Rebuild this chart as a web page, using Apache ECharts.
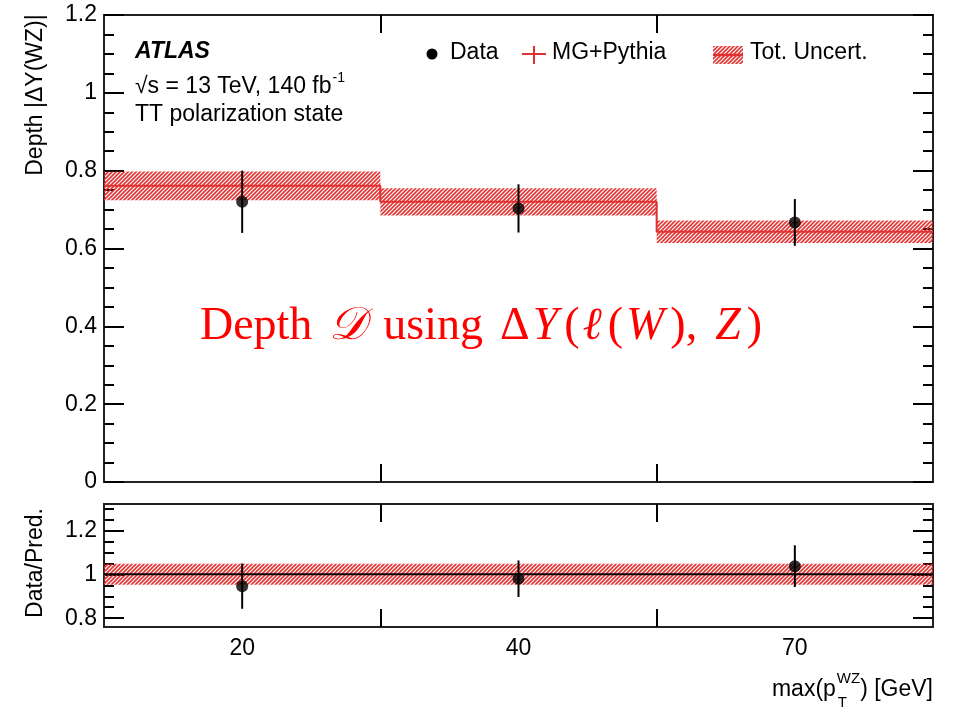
<!DOCTYPE html>
<html>
<head>
<meta charset="utf-8">
<script src="https://cdn.jsdelivr.net/npm/echarts@6/dist/echarts.min.js"></script>
<style>
  html, body { margin: 0; padding: 0; background: #fff; }
  #chart { width: 963px; height: 710px; }
</style>
</head>
<body>
<div id="chart"></div>
<script>
// Bins of max(pT^WZ): three equal-width bins, labelled by value
const binEdges = [0, 1, 2, 3];
const binLabels = ['20', '40', '70'];

// Upper panel: depth of |ΔY(WZ)|, TT polarization state
const predValues = [0.761, 0.720, 0.643];      // MG+Pythia
const predUncert = [0.037, 0.035, 0.029];      // total uncertainty (half width)
const dataValues = [0.720, 0.703, 0.667];
const dataErrors = [0.080, 0.062, 0.060];

// Lower panel: Data / Pred.
const ratioValues = [0.946, 0.980, 1.037];
const ratioErrors = [0.103, 0.083, 0.095];
const ratioBand = [0.048, 0.048, 0.048];
const ratioRef = 1;

// Axis ticks
const mainYMin = 0, mainYMax = 1.2, mainYStep = 0.2;
const ratioYMin = 0.76, ratioYMax = 1.32;
const ratioMajorTicks = [0.8, 1, 1.2];
const ratioMinorTicks = [0.8, 0.85, 0.9, 0.95, 1, 1.05, 1.1, 1.15, 1.2, 1.25, 1.3];
const binBoundaries = [1, 2];

const FONT = '"Liberation Sans", Arial, Helvetica, sans-serif';
const SERIF = '"Liberation Serif", "DejaVu Serif", serif';
const RED = '#e03030';

// Diagonal hatch tile for the uncertainty bands
function makeHatch() {
  const c = document.createElement('canvas');
  c.width = 4; c.height = 4;
  const ctx = c.getContext('2d');
  ctx.strokeStyle = 'rgba(225,40,40,0.95)';
  ctx.lineWidth = 1.6;
  ctx.beginPath();
  ctx.moveTo(-1, 5); ctx.lineTo(5, -1);
  ctx.moveTo(-1, 1); ctx.lineTo(1, -1);
  ctx.moveTo(3, 5); ctx.lineTo(5, 3);
  ctx.stroke();
  return c;
}
const hatchTile = makeHatch();
const hatchFill = { image: hatchTile, repeat: 'repeat' };

const centers = binLabels.map((_, i) => (binEdges[i] + binEdges[i + 1]) / 2);

function bandData(vals, unc) {
  return vals.map((v, i) => [binEdges[i], binEdges[i + 1], v - unc[i], v + unc[i]]);
}
function stepData(vals) {
  const pts = [];
  vals.forEach((v, i) => { pts.push([binEdges[i], v]); pts.push([binEdges[i + 1], v]); });
  return pts;
}
function errData(vals, errs) {
  return vals.map((v, i) => [centers[i], v - errs[i], v + errs[i]]);
}

function renderBand(params, api) {
  const p1 = api.coord([api.value(0), api.value(3)]);
  const p2 = api.coord([api.value(1), api.value(2)]);
  return {
    type: 'rect',
    shape: { x: p1[0], y: p1[1], width: p2[0] - p1[0], height: p2[1] - p1[1] },
    style: { fill: hatchFill }
  };
}
function renderErr(params, api) {
  const lo = api.coord([api.value(0), api.value(1)]);
  const hi = api.coord([api.value(0), api.value(2)]);
  return {
    type: 'line',
    shape: { x1: lo[0], y1: lo[1], x2: hi[0], y2: hi[1] },
    style: { stroke: '#000', lineWidth: 2 }
  };
}

const tickStyle = { color: '#000', width: 2 };
const labelStyle = { color: '#000', fontSize: 23, fontFamily: FONT };
const noLine = { show: false, onZero: false };

function xAxisDef(gridIndex, position, withLabels) {
  return {
    type: 'value', gridIndex, position, min: binEdges[0], max: binEdges[binEdges.length - 1],
    axisLine: noLine,
    splitLine: { show: false },
    axisTick: { show: true, inside: true, length: 18, lineStyle: tickStyle, customValues: binBoundaries },
    axisLabel: withLabels
      ? Object.assign({ show: true, margin: 10, customValues: centers,
          formatter: v => binLabels[centers.findIndex(c => Math.abs(c - v) < 1e-6)] }, labelStyle)
      : { show: false }
  };
}

function mainYAxis(position, withLabels) {
  return {
    type: 'value', gridIndex: 0, position, min: mainYMin, max: mainYMax, interval: mainYStep,
    axisLine: noLine, splitLine: { show: false },
    axisTick: { show: true, inside: true, length: 20, lineStyle: tickStyle },
    minorTick: { show: true, splitNumber: 4, length: 10, lineStyle: tickStyle },
    axisLabel: withLabels ? Object.assign({ show: true, margin: 7 }, labelStyle) : { show: false }
  };
}
function ratioYAxis(position, major, withLabels) {
  return {
    type: 'value', gridIndex: 1, position, min: ratioYMin, max: ratioYMax,
    axisLine: noLine, splitLine: { show: false },
    axisTick: { show: true, inside: true, length: major ? 20 : 10, lineStyle: tickStyle,
      customValues: major ? ratioMajorTicks : ratioMinorTicks },
    axisLabel: withLabels
      ? Object.assign({ show: true, margin: 7, customValues: ratioMajorTicks }, labelStyle)
      : { show: false }
  };
}

// Text width helper for the hand-placed annotations
const measureCtx = document.createElement('canvas').getContext('2d');
function textWidth(str, font) { measureCtx.font = font; return measureCtx.measureText(str).width; }

function txt(x, y, text, opts) {
  const o = Object.assign({ size: 23, family: FONT, weight: 'normal', style: 'normal',
    align: 'left', valign: 'middle', fill: '#000', rotation: 0 }, opts || {});
  return {
    type: 'text', x, y, rotation: o.rotation, z: 100,
    style: {
      text, fill: o.fill, fontSize: o.size, fontFamily: o.family,
      fontWeight: o.weight, fontStyle: o.style,
      align: o.align, verticalAlign: o.valign,
      textAlign: o.align, textVerticalAlign: o.valign
    }
  };
}

// x-axis title: max(p_T^WZ) [GeV], right aligned to the frame
const xTitleRight = 933;
const mainFont = '23px ' + FONT;
const smallFont = '15px ' + FONT;
const tailW = textWidth(') [GeV]', mainFont);
const supW = textWidth('WZ', smallFont);
const xTitleScriptX = xTitleRight - tailW - supW;

// √s line with superscript
const sLine = '√s = 13 TeV, 140 fb';
const sLineW = textWidth(sLine, mainFont);

// Red annotation, one fragment per style
const RED_TEXT = '#ff0000';
const annSize = 46;
function annStyle(italic, family, padL, padR) {
  return { fontSize: annSize, fontFamily: family || SERIF, fontStyle: italic ? 'italic' : 'normal',
    fill: RED_TEXT, color: RED_TEXT, padding: [0, padR || 0, 0, padL || 0] };
}

const graphics = [
  txt(135, 52, 'ATLAS', { weight: 'bold', style: 'italic' }),
  txt(135, 87, sLine),
  txt(135 + sLineW + 1, 78, '-1', { size: 14 }),
  txt(135, 115, 'TT polarization state'),

  // legend
  { type: 'circle', shape: { cx: 432, cy: 54, r: 5.5 }, style: { fill: '#000' }, z: 100 },
  txt(450, 53, 'Data'),
  { type: 'line', shape: { x1: 522, y1: 54, x2: 546, y2: 54 }, style: { stroke: RED, lineWidth: 2 }, z: 100 },
  { type: 'line', shape: { x1: 534, y1: 46, x2: 534, y2: 64 }, style: { stroke: RED, lineWidth: 2 }, z: 100 },
  txt(552, 53, 'MG+Pythia'),
  { type: 'rect', shape: { x: 713, y: 46, width: 30, height: 18 }, style: { fill: hatchFill }, z: 100 },
  { type: 'line', shape: { x1: 713, y1: 55, x2: 743, y2: 55 }, style: { stroke: RED, lineWidth: 2.5 }, z: 100 },
  txt(750, 53, 'Tot. Uncert.'),

  // axis titles
  txt(36, 95, 'Depth |ΔY(WZ)|', { align: 'center', rotation: Math.PI / 2 }),
  txt(36, 563, 'Data/Pred.', { align: 'center', rotation: Math.PI / 2 }),
  txt(xTitleRight, 690, ') [GeV]', { align: 'right' }),
  txt(xTitleScriptX, 679, 'WZ', { size: 15 }),
  txt(xTitleScriptX + 1, 703, 'T', { size: 15 }),
  txt(xTitleScriptX - 1, 690, 'max(p', { align: 'right' }),

  // red annotation
  {
    type: 'text', x: 481, y: 327, z: 100,
    style: {
      text: '{r|Depth}{g|}{s|𝒟}{g|}{r|using}{g|}{r|Δ}{i|Y}{r|(}{i|ℓ}{r|(}{i|W}{r|),}{g|}{i|Z}{r|)}',
      align: 'center', verticalAlign: 'middle', textAlign: 'center', textVerticalAlign: 'middle',
      fill: RED_TEXT,
      rich: {
        r: annStyle(false, null, 1, 1),
        i: annStyle(true, null, 2, 5),
        s: annStyle(true, '"DejaVu Serif", "DejaVu Sans", serif', 1, 1),
        g: { width: 15, fontSize: annSize }
      }
    }
  }
];

const option = {
  animation: false,
  backgroundColor: '#fff',
  grid: [
    { left: 104, right: 30, top: 15, height: 467, show: true, borderColor: '#222', borderWidth: 2, backgroundColor: 'transparent', containLabel: false },
    { left: 104, right: 30, top: 504, height: 123, show: true, borderColor: '#222', borderWidth: 2, backgroundColor: 'transparent', containLabel: false }
  ],
  xAxis: [
    xAxisDef(0, 'bottom', false),
    xAxisDef(0, 'top', false),
    xAxisDef(1, 'bottom', true),
    xAxisDef(1, 'top', false)
  ],
  yAxis: [
    mainYAxis('left', true),
    mainYAxis('right', false),
    ratioYAxis('left', true, true),
    ratioYAxis('left', false, false),
    ratioYAxis('right', true, false),
    ratioYAxis('right', false, false)
  ],
  series: [
    { type: 'custom', xAxisIndex: 0, yAxisIndex: 0, renderItem: renderBand, clip: true,
      encode: { x: [0, 1], y: [2, 3] }, data: bandData(predValues, predUncert), z: 1 },
    { type: 'line', xAxisIndex: 0, yAxisIndex: 0, data: stepData(predValues), symbol: 'none',
      lineStyle: { color: RED, width: 2 }, z: 2 },
    { type: 'custom', xAxisIndex: 0, yAxisIndex: 0, renderItem: renderErr,
      encode: { x: 0, y: [1, 2] }, data: errData(dataValues, dataErrors), z: 3 },
    { type: 'scatter', xAxisIndex: 0, yAxisIndex: 0, symbolSize: 12,
      itemStyle: { color: '#000' }, data: dataValues.map((v, i) => [centers[i], v]), z: 4 },

    { type: 'custom', xAxisIndex: 2, yAxisIndex: 2, renderItem: renderBand, clip: true,
      encode: { x: [0, 1], y: [2, 3] }, data: bandData(predValues.map(() => ratioRef), ratioBand), z: 1 },
    { type: 'line', xAxisIndex: 2, yAxisIndex: 2, symbol: 'none',
      data: [[binEdges[0], ratioRef], [binEdges[binEdges.length - 1], ratioRef]],
      lineStyle: { color: '#000', width: 2 }, z: 2 },
    { type: 'custom', xAxisIndex: 2, yAxisIndex: 2, renderItem: renderErr,
      encode: { x: 0, y: [1, 2] }, data: errData(ratioValues, ratioErrors), z: 3 },
    { type: 'scatter', xAxisIndex: 2, yAxisIndex: 2, symbolSize: 12,
      itemStyle: { color: '#000' }, data: ratioValues.map((v, i) => [centers[i], v]), z: 4 }
  ],
  graphic: graphics
};

const chart = echarts.init(document.getElementById('chart'), null, { renderer: 'canvas' });
chart.setOption(option);
</script>
</body>
</html>
